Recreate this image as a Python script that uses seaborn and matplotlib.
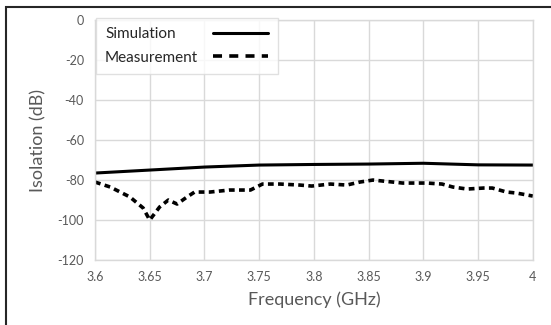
import numpy as np
import pandas as pd
import matplotlib.pyplot as plt
import matplotlib.patches as patches
import seaborn as sns

# simulation curve
sim_freq = [3.60, 3.65, 3.70, 3.75, 3.80, 3.85, 3.90, 3.95, 4.00]
sim_iso = [-76.5, -75.0, -73.5, -72.5, -72.2, -72.0, -71.6, -72.4, -72.5]

# measured curve
meas_freq = [3.600, 3.614, 3.632, 3.644, 3.650, 3.659, 3.667, 3.675, 3.684, 3.691,
             3.705, 3.723, 3.742, 3.753, 3.769, 3.787, 3.798, 3.815, 3.830, 3.842,
             3.854, 3.863, 3.881, 3.903, 3.917, 3.927, 3.940, 3.955, 3.963, 3.976,
             3.985, 4.000]
meas_iso = [-81.0, -83.5, -88.5, -94.0, -100.0, -93.5, -90.0, -92.0, -88.5, -86.0,
            -86.0, -85.0, -85.0, -82.0, -82.0, -82.5, -83.0, -82.0, -82.5, -81.0,
            -80.0, -80.5, -81.5, -81.5, -82.0, -83.5, -84.5, -84.0, -84.0, -86.0,
            -86.5, -88.0]

sns.set_style("white")
plt.rcParams['font.family'] = ['Lato', 'DejaVu Sans']
plt.rcParams['axes.unicode_minus'] = False

fig = plt.figure(figsize=(5.51, 3.25), dpi=100)
ax = fig.add_axes([0.1724, 0.2, 0.7946, 0.738])

sns.lineplot(x=sim_freq, y=sim_iso, color='black', linewidth=2.2, label='Simulation', ax=ax)
sns.lineplot(x=meas_freq, y=meas_iso, color='black', linewidth=2.6, label='Measurement', ax=ax)
ax.lines[1].set_linestyle((0, (1.6, 1.2)))

ax.set_xlim(3.6, 4.0)
ax.set_ylim(-120, 0)
ax.set_xticks(np.arange(3.6, 4.001, 0.05))
ax.set_xticklabels(['3.6', '3.65', '3.7', '3.75', '3.8', '3.85', '3.9', '3.95', '4'])
ax.set_yticks(range(-120, 1, 20))
ax.tick_params(axis='both', labelsize=9, colors='#595959', length=0, pad=8)
ax.grid(True, color='#d9d9d9', linewidth=1)
for s in ax.spines.values():
    s.set_color('#d9d9d9')
    s.set_linewidth(1)

ax.set_xlabel('Frequency (GHz)', fontsize=13, color='#595959', labelpad=6)
ax.set_ylabel('Isolation (dB)', fontsize=13, color='#595959', labelpad=8)

h, l = ax.get_legend_handles_labels()
leg = ax.legend(h, l, loc='upper left', bbox_to_anchor=(0.002, 1.008), markerfirst=False,
                fontsize=11, frameon=True, fancybox=False, handlelength=3.6,
                borderaxespad=0, borderpad=0.6, labelspacing=0.6, handletextpad=1.0)
leg.get_frame().set_edgecolor('#d9d9d9')
leg.get_frame().set_linewidth(1)
leg.legend_handles[1].set_linestyle((0, (2.5, 2.0)))

# left-align the legend labels while keeping the handles lined up on the right
fig.canvas.draw()
r = fig.canvas.get_renderer()
widths = [t.get_window_extent(r).width for t in leg.get_texts()]
col = leg._legend_handle_box.get_children()[0]
col.align = 'left'
for row, w in zip(col.get_children(), widths):
    row.sep = row.sep + (max(widths) - w) * 72 / fig.dpi

fig.patches.append(patches.Rectangle((6 / 551, -0.02), 1.0, (325 - 7) / 325 + 0.02,
                                     transform=fig.transFigure, fill=False,
                                     edgecolor='#262626', linewidth=1.5))

fig.savefig('out.png', dpi=100)
